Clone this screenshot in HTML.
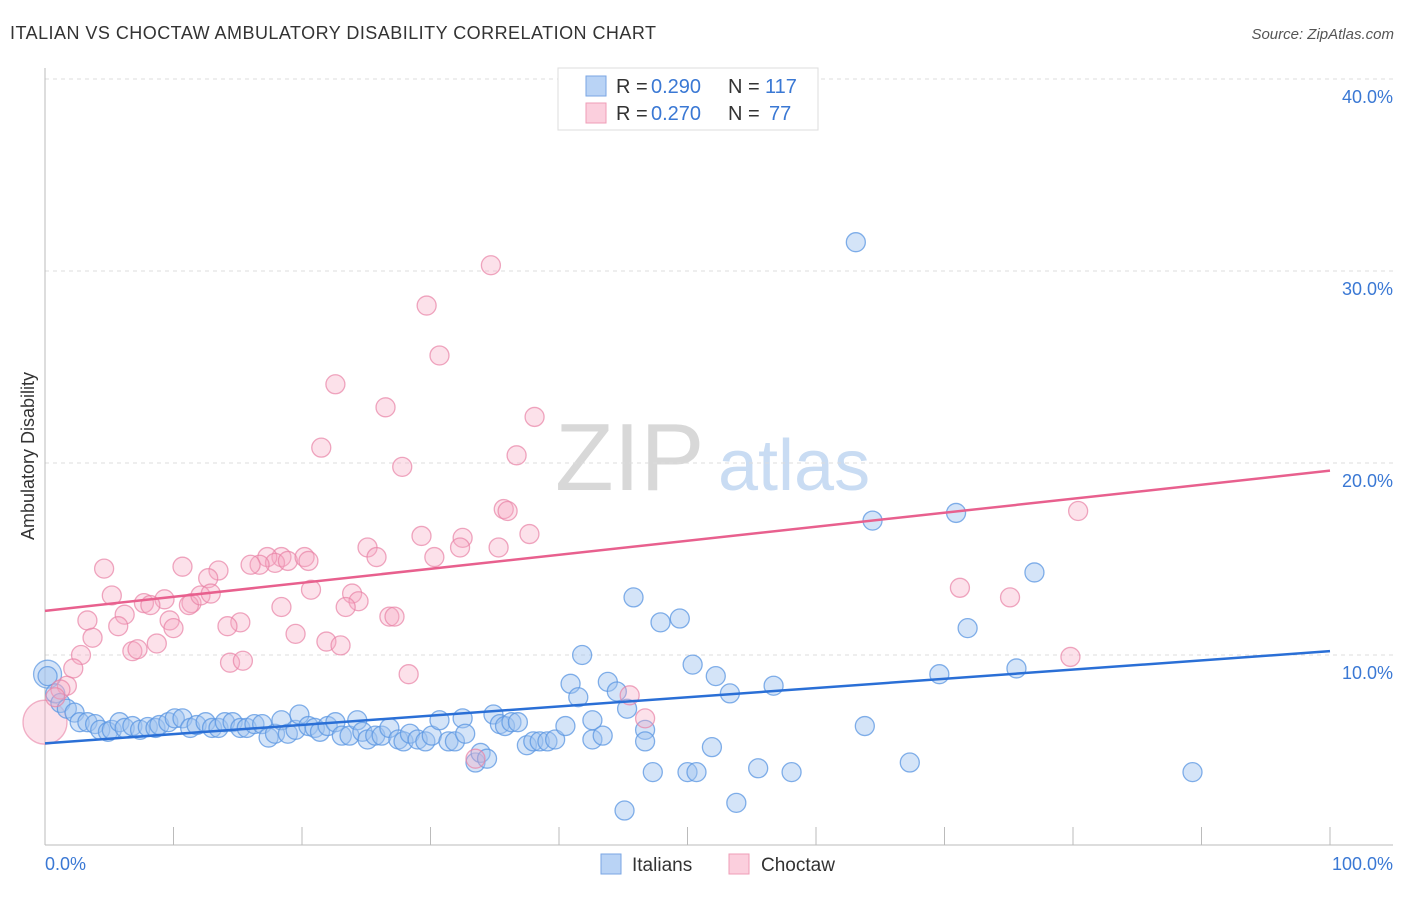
<!DOCTYPE html>
<html><head><meta charset="utf-8"><style>
body{margin:0;background:#fff;font-family:"Liberation Sans",sans-serif}
svg text{font-family:"Liberation Sans",sans-serif}
</style></head><body>
<svg id="chart" width="1406" height="892" xmlns="http://www.w3.org/2000/svg">
<text x="10" y="39" font-size="18" fill="#333" textLength="646">ITALIAN VS CHOCTAW AMBULATORY DISABILITY CORRELATION CHART</text>
<text x="1394" y="39" font-size="15" fill="#555" text-anchor="end" font-style="italic">Source: ZipAtlas.com</text>
<text x="555" y="490" font-size="96" fill="#d8d8d8" font-family="Liberation Serif,serif">ZIP</text>
<text x="718" y="490" font-size="72" fill="#c9dcf3">atlas</text>
<g id="grid"></g>
<g id="marks"></g>
<g id="lines"></g>
<text transform="translate(34,456) rotate(-90)" font-size="18" fill="#333" text-anchor="middle">Ambulatory Disability</text>
<text x="45" y="870" font-size="18" fill="#3a78d4">0.0%</text>
<text x="1393" y="870" font-size="18" fill="#3a78d4" text-anchor="end">100.0%</text>
<g>
<rect x="558" y="68" width="260" height="62" fill="#fff" stroke="#ddd"/>
<rect x="586" y="76" width="20" height="20" fill="#b9d3f5" stroke="#7aa6e3"/>
<rect x="586" y="103" width="20" height="20" fill="#fbcfdd" stroke="#ef9db7"/>
<text x="616" y="93" font-size="20" fill="#333">R =</text><text x="651" y="93" font-size="20" fill="#3a78d4">0.290</text>
<text x="728" y="93" font-size="20" fill="#333">N =</text><text x="765" y="93" font-size="20" fill="#3a78d4">117</text>
<text x="616" y="120" font-size="20" fill="#333">R =</text><text x="651" y="120" font-size="20" fill="#3a78d4">0.270</text>
<text x="728" y="120" font-size="20" fill="#333">N =</text><text x="769" y="120" font-size="20" fill="#3a78d4">77</text>
</g>
<g>
<rect x="601" y="854" width="20" height="20" fill="#b9d3f5" stroke="#7aa6e3"/>
<text x="632" y="871" font-size="19" fill="#333">Italians</text>
<rect x="729" y="854" width="20" height="20" fill="#fbcfdd" stroke="#ef9db7"/>
<text x="761" y="871" font-size="19" fill="#333">Choctaw</text>
</g>
</svg>
<script>
const yTicks=[10,20,30,40];
const yTickLabels=["10.0%","20.0%","30.0%","40.0%"];
const xTicks=[0,10,20,30,40,50,60,70,80,90,100];
const blueX=[0.2,0.8,1.2,1.7,2.3,2.7,3.3,3.9,4.3,4.9,5.2,5.8,6.2,6.8,7.4,8.0,8.6,8.9,9.6,10.1,10.7,11.3,11.8,12.5,13.0,13.5,14.0,14.6,15.2,15.7,16.3,16.9,17.4,17.9,18.4,18.9,19.5,19.8,20.5,21.0,21.4,22.0,22.6,23.1,23.7,24.3,24.7,25.1,25.7,26.2,26.8,27.5,27.9,28.4,29.0,29.6,30.1,30.7,31.4,31.9,32.5,32.7,33.5,33.9,34.4,34.9,35.4,35.8,36.3,36.8,37.5,38.0,38.5,39.1,39.7,40.5,40.9,41.5,41.8,42.6,42.6,43.4,43.8,44.5,45.1,45.3,45.8,46.7,46.7,47.3,47.9,49.4,50.0,50.4,50.7,51.9,52.2,53.3,53.8,55.5,56.7,58.1,63.1,63.8,64.4,67.3,69.6,70.9,71.8,75.6,77.0,89.3];
const blueY=[8.9,8.0,7.5,7.2,7.0,6.5,6.5,6.4,6.1,6.0,6.1,6.5,6.2,6.3,6.1,6.25,6.2,6.35,6.5,6.7,6.7,6.2,6.35,6.5,6.2,6.2,6.5,6.5,6.2,6.2,6.4,6.4,5.7,5.9,6.6,5.9,6.1,6.9,6.3,6.2,6.0,6.3,6.5,5.8,5.8,6.6,6.0,5.6,5.8,5.8,6.2,5.6,5.5,5.9,5.6,5.5,5.8,6.6,5.5,5.5,6.7,5.9,4.4,4.9,4.6,6.9,6.4,6.3,6.5,6.5,5.3,5.5,5.5,5.5,5.6,6.3,8.5,7.8,10.0,5.6,6.6,5.8,8.6,8.1,1.9,7.2,13.0,6.1,5.5,3.9,11.7,11.9,3.9,9.5,3.9,5.2,8.9,8.0,2.3,4.1,8.4,3.9,31.5,6.3,17.0,4.4,9.0,17.4,11.4,9.3,14.3,3.9];
const pinkX=[34.7,29.7,30.7,22.6,26.5,38.1,21.5,27.8,36.7,35.7,36.0,80.4,37.7,25.1,29.3,32.5,32.3,35.3,25.8,30.3,18.4,17.3,17.9,16.7,16.0,18.9,20.2,20.5,4.6,10.7,13.5,12.7,20.7,71.2,75.1,5.2,9.3,7.7,8.2,11.4,11.2,12.1,12.9,23.9,24.4,23.4,18.4,6.2,3.3,9.7,10.0,15.2,14.2,5.7,26.8,27.2,3.7,19.5,21.9,8.7,23.0,6.8,7.2,2.8,2.2,14.4,15.4,28.3,79.8,1.7,1.2,45.5,46.7,33.5,0.8];
const pinkY=[30.3,28.2,25.6,24.1,22.9,22.4,20.8,19.8,20.4,17.6,17.5,17.5,16.3,15.6,16.2,16.1,15.6,15.6,15.1,15.1,15.1,15.1,14.8,14.7,14.7,14.9,15.1,14.9,14.5,14.6,14.4,14.0,13.4,13.5,13.0,13.1,12.9,12.7,12.6,12.7,12.6,13.1,13.2,13.2,12.8,12.5,12.5,12.1,11.8,11.8,11.4,11.7,11.5,11.5,12.0,12.0,10.9,11.1,10.7,10.6,10.5,10.2,10.3,10.0,9.3,9.6,9.7,9.0,9.9,8.4,8.2,7.9,6.7,4.6,7.8];
const blueLargeX=[0.2], blueLargeY=[9.0];
const pinkLargeX=[0.0], pinkLargeY=[6.5];
const blueTrend=[5.4,10.2];
const pinkTrend=[12.3,19.6];

const X0=45,X1=1330,Y0=847,PY=19.2;
const sx=v=>X0+(X1-X0)*v/100;
const sy=v=>Y0-v*PY;
const NS="http://www.w3.org/2000/svg";
function mk(tag,parent,attrs){const e=document.createElementNS(NS,tag);for(const k in attrs)e.setAttribute(k,attrs[k]);parent.appendChild(e);return e;}
const grid=document.getElementById('grid'),marks=document.getElementById('marks'),lines=document.getElementById('lines');
yTicks.forEach((t,i)=>{
 const g=mk('line',grid,{x1:45,x2:1393,y1:sy(t),y2:sy(t),stroke:'#ddd','stroke-dasharray':'4,4'});
 
 
 const l=mk('text',grid,{x:1393,y:sy(t)+24,'font-size':18,fill:'#3a78d4','text-anchor':'end'});
 l.textContent=yTickLabels[i];
 
 
});
const ax=mk('line',grid,{x1:45,x2:45,y1:68,y2:845,stroke:'#bbb'});


const bx=mk('line',grid,{x1:45,x2:1393,y1:845,y2:845,stroke:'#bbb'});


xTicks.forEach(t=>{
 const k=mk('line',grid,{x1:sx(t),x2:sx(t),y1:827,y2:845,stroke:'#bbb'});
 
 
});
function dots(xs,ys,r,fill,stroke,name){
 xs.forEach((x,i)=>{
  const c=mk('circle',marks,{cx:sx(x),cy:sy(ys[i]),r:r,fill:fill,stroke:stroke,'stroke-width':1.3});
  
  
 });
}
dots(pinkLargeX,pinkLargeY,22,'rgba(246,170,196,0.35)','rgba(232,130,165,0.6)','choctaw-point');
dots(blueLargeX,blueLargeY,14,'rgba(160,196,240,0.45)','rgba(90,150,225,0.7)','italian-point');
dots(blueX,blueY,9.5,'rgba(160,196,240,0.45)','rgba(90,150,225,0.75)','italian-point');
dots(pinkX,pinkY,9.5,'rgba(246,170,196,0.35)','rgba(232,130,165,0.7)','choctaw-point');
const bl=mk('line',lines,{x1:sx(0),x2:sx(100),y1:sy(blueTrend[0]),y2:sy(blueTrend[1]),stroke:'#2a6fd6','stroke-width':2.5});


const pl=mk('line',lines,{x1:sx(0),x2:sx(100),y1:sy(pinkTrend[0]),y2:sy(pinkTrend[1]),stroke:'#e8608e','stroke-width':2.5});


</script>
</body></html>
